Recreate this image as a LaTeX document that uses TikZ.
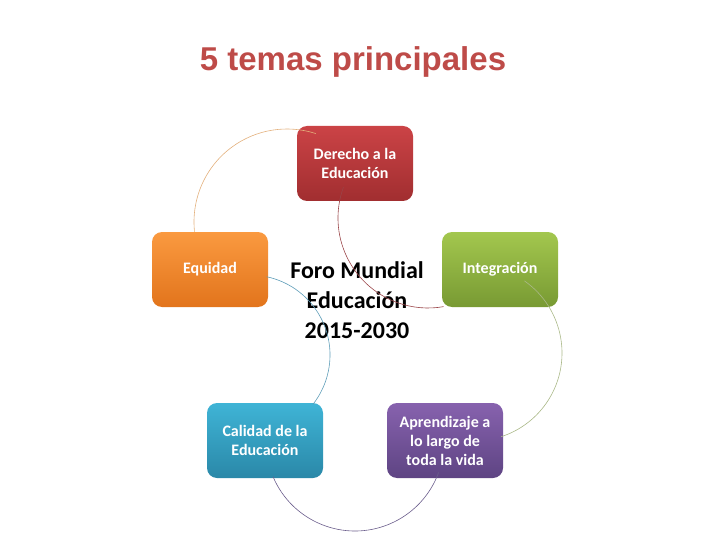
\documentclass[tikz,border=0pt]{standalone}
\usepackage{fontspec}
\setmainfont{Carlito}
\newfontfamily\titlefont{Liberation Sans}
\usetikzlibrary{calc}
\definecolor{titlered}{HTML}{BE4B48}
\definecolor{redT}{HTML}{CB4346}\definecolor{redB}{HTML}{A12E30}
\definecolor{oraT}{HTML}{FA9A40}\definecolor{oraB}{HTML}{E2741C}
\definecolor{grnT}{HTML}{A3C74E}\definecolor{grnB}{HTML}{789A33}
\definecolor{bluT}{HTML}{3FB4D6}\definecolor{bluB}{HTML}{2A88A8}
\definecolor{purT}{HTML}{8762AE}\definecolor{purB}{HTML}{5E4483}
\definecolor{arcO}{HTML}{E3B07C}\definecolor{arcR}{HTML}{9A4448}
\definecolor{arcB}{HTML}{5E9DB8}\definecolor{arcG}{HTML}{AAB888}
\definecolor{arcP}{HTML}{6B5E8C}
\tikzset{
  topic/.style={rounded corners=10pt, minimum width=116pt, minimum height=75pt,
    inner sep=2pt, align=center, text=white,
    font=\fontsize{16}{19}\selectfont\bfseries},
  cyc/.style={line width=0.6pt}
}
\begin{document}
\begin{tikzpicture}[x=1pt,y=-1pt]
\useasboundingbox (0,0) rectangle (720,540);
\node[font=\titlefont\fontsize{33}{38}\selectfont\bfseries, text=titlered, anchor=base] (title) at (353,71) {5 temas principales};
\node[topic, top color=redT, bottom color=redB] (der) at (355,163.5) {Derecho a la\\Educación};
\node[topic, top color=oraT, bottom color=oraB] (equ) at (210,269.5) {Equidad};
\node[topic, top color=grnT, bottom color=grnB] (int) at (500,269.5) {Integración};
\node[topic, top color=bluT, bottom color=bluB] (cal) at (265,440.5) {Calidad de la\\Educación};
\node[topic, top color=purT, bottom color=purB] (apr) at (445,440.5) {Aprendizaje a\\lo largo de\\toda la vida};
\node[align=center, font=\fontsize{24}{30}\selectfont\bfseries] (foro) at (357,300) {Foro Mundial\\Educación\\2015-2030};
\coordinate (cO) at (287,222);
\coordinate (cR) at (428,218);
\coordinate (cB) at (250,355);
\coordinate (cG) at (474,353);
\coordinate (cP) at (355,442);
\draw[cyc, arcO] ([shift={(186:93pt)}]cO) arc[start angle=186, end angle=72, radius=93pt];
\draw[cyc, arcR] ([shift={(160:90pt)}]cR) arc[start angle=160, end angle=280, radius=90pt];
\draw[cyc, arcB] ([shift={(78:80pt)}]cB) arc[start angle=78, end angle=-38, radius=80pt];
\draw[cyc, arcG] ([shift={(55:88pt)}]cG) arc[start angle=55, end angle=-72, radius=88pt];
\draw[cyc, arcP] ([shift={(203:89pt)}]cP) arc[start angle=203, end angle=340, radius=89pt];
\end{tikzpicture}
\end{document}
